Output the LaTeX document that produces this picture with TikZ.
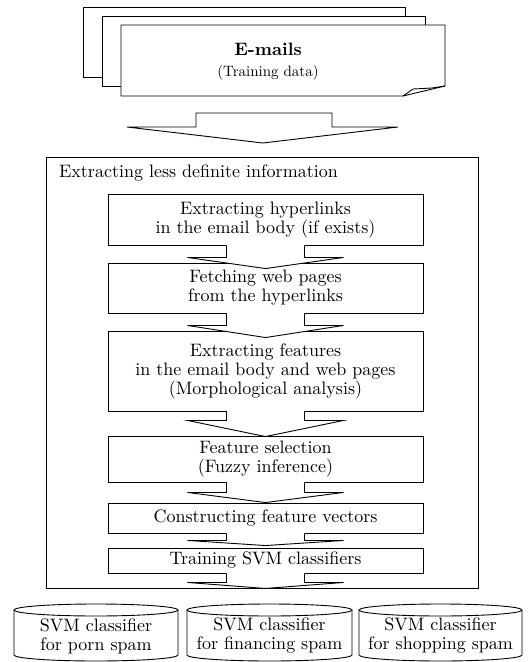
\documentclass[tikz,border=0pt]{standalone}
\usepackage{fontspec}
\setmainfont{lmroman10-regular.otf}[BoldFont=lmroman10-bold.otf]
\usetikzlibrary{calc}
\tikzset{
  ln/.style={line width=0.9pt, line join=miter},
  stepbox/.style={ln, draw, fill=white, minimum width=315pt, inner sep=0pt, align=center, font=\fontsize{18}{19}\selectfont},
  ctext/.style={align=center, inner sep=0pt, font=\fontsize{18}{19}\selectfont},
}
\newcommand\flowconn[3]{%
  \fill[white] ($(#1.south)+(-39,-1)$) -- ($(#1.south)+(-39,#3)$) -- ($(#1.south)+(-78,#3)$) -- (#2) -- ($(#1.south)+(78,#3)$) -- ($(#1.south)+(39,#3)$) -- ($(#1.south)+(39,-1)$) -- cycle;
  \draw[ln] ($(#1.south)+(-39,0)$) -- ($(#1.south)+(-39,#3)$) -- ($(#1.south)+(-78,#3)$) -- (#2) -- ($(#1.south)+(78,#3)$) -- ($(#1.south)+(39,#3)$) -- ($(#1.south)+(39,0)$);
}
\newcommand\cylshape[2]{%
  \draw[ln, fill=white] (#1,610) -- (#1,655) arc[start angle=180, end angle=360, x radius={(#2-#1)/2*1pt}, y radius=6pt] -- (#2,610);
  \draw[ln] ({(#1+#2)/2},610) ellipse [x radius={(#2-#1)/2*1pt}, y radius=6pt];
}
\begin{document}
\begin{tikzpicture}[x=1pt, y=-1pt]
\useasboundingbox (0,0) rectangle (529,662);
% documents
\draw[ln, fill=white] (83,7) rectangle (405,77);
\draw[ln, fill=white] (102,16) rectangle (425,86);
\draw[ln, fill=white] (121,25) -- (445,25) -- (445,86) -- (403,96) -- (121,96) -- cycle;
\draw[ln] (403,96) -- (413,89) -- (432,88) -- (445,86);
\node[anchor=base, inner sep=0pt, font=\fontsize{18}{20}\bfseries\selectfont] (emails) at (268,55) {E-mails};
\node[anchor=base, inner sep=0pt, font=\fontsize{15}{18}\selectfont] (training) at (268,76) {(Training data)};
% big arrow
\coordinate (atip) at (263,143);
\draw[ln, fill=white] (196,113) -- (332,113) -- (332,127) -- (398,127) -- (atip) -- (127,127) -- (196,127) -- cycle;
% outer box
\node[ln, draw, minimum width=432pt, minimum height=431pt, inner sep=0pt] (outer) at (262,372.5) {};
\node[anchor=base west, inner sep=0pt, font=\fontsize{18}{19}\selectfont] (title) at (59,177) {Extracting less definite information};
% steps
\node[stepbox, minimum height=51pt] (b1) at (265.5,219.5) {Extracting hyperlinks\\in the email body (if exists)};
\node[stepbox, minimum height=50pt] (b2) at (265.5,288) {Fetching web pages\\from the hyperlinks};
\node[stepbox, minimum height=80pt] (b3) at (265.5,371) {Extracting features\\in the email body and web pages\\(Morphological analysis)};
\node[stepbox, minimum height=46pt] (b4) at (265.5,459) {Feature selection\\(Fuzzy inference)};
\node[stepbox, minimum height=30pt] (b5) at (265.5,518) {Constructing feature vectors};
\node[stepbox, minimum height=25pt] (b6) at (265.5,560.5) {Training SVM classifiers};
\flowconn{b1}{$(b2.north)+(0,6)$}{12}
\flowconn{b2}{$(b3.north)+(0,7)$}{12}
\flowconn{b3}{$(b4.north)+(0,1)$}{9}
\flowconn{b4}{b5.north}{10}
\flowconn{b5}{$(b6.north)+(0,-2)$}{7}
\flowconn{b6}{b6.south |- outer.south}{9}
% classifiers
\cylshape{14}{178}
\cylshape{187}{352}
\cylshape{359}{522}
\node[ctext] (c1) at (96,636) {SVM classifier\\for porn spam};
\node[ctext] (c2) at (269.5,636) {SVM classifier\\for financing spam};
\node[ctext] (c3) at (440.5,636) {SVM classifier\\for shopping spam};
\end{tikzpicture}
\end{document}
